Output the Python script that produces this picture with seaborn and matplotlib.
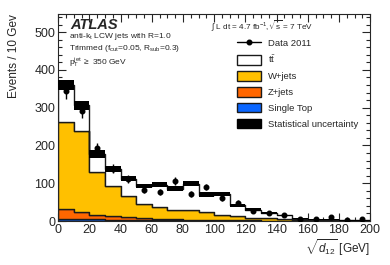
import numpy as np
import pandas as pd
import matplotlib
matplotlib.use("Agg")
import matplotlib.pyplot as plt
import seaborn as sns
from matplotlib.patches import Patch
from matplotlib.lines import Line2D
from matplotlib.ticker import MultipleLocator

# ---- data ----
bin_edges = list(range(0, 210, 10))
bin_centers = [5, 15, 25, 35, 45, 55, 65, 75, 85, 95, 105, 115, 125, 135, 145, 155, 165, 175, 185, 195]
single_top = [6, 5, 4, 3, 3, 2, 2, 1.5, 1.5, 1, 1, 0.8, 0.6, 0.5, 0.4, 0.3, 0.2, 0.2, 0.1, 0.1]
z_jets = [25, 19, 13, 10, 7, 5, 3, 2.5, 1.5, 2, 1, 1.2, 0.9, 0.5, 0.6, 0.2, 0.3, 0.1, 0.2, 0.2]
w_jets = [231, 214, 114, 79, 55, 39, 33, 25, 26, 20, 13, 11, 7.5, 6, 4, 2.5, 1.5, 1.2, 0.7, 0.7]
ttbar = [99, 68, 46, 46, 47, 47, 58, 57, 70, 47, 57, 29, 21, 15, 10, 3, 1, 1.5, 1, 1]
stat_unc = [13, 13, 10, 8, 7, 6, 6, 6, 6, 6, 5, 4, 4, 3, 2, 1.5, 1, 1, 1, 1]
data_vals = [343, 291, 193, 138, 112, 83, 77, 106, 71, 90, 61, 48, 26, 21, 16, 6, 5, 10, 3, 5]
data_err = [19, 17, 14, 12, 11, 9, 9, 10, 8, 9, 8, 7, 5, 5, 4, 2.5, 2, 3, 2, 2]

processes = ["ttbar", "W+jets", "Z+jets", "Single Top"]
colors = {"ttbar": "#FFFFFF", "W+jets": "#FFC000", "Z+jets": "#FF6600", "Single Top": "#0A66FF"}

rows = []
for name, vals in zip(processes, [ttbar, w_jets, z_jets, single_top]):
    for c, v in zip(bin_centers, vals):
        rows.append({"x": c, "w": v, "proc": name})
df = pd.DataFrame(rows)

sns.set_style("ticks")
plt.rcParams["font.family"] = ["Liberation Sans", "DejaVu Sans"]
plt.rcParams["mathtext.fontset"] = "custom"
plt.rcParams["mathtext.rm"] = "Liberation Sans"
plt.rcParams["mathtext.it"] = "Liberation Sans:italic"
plt.rcParams["mathtext.bf"] = "Liberation Sans:bold"

fig = plt.figure(figsize=(3.9, 2.65), dpi=100)
ax = fig.add_axes([0.149, 0.166, 0.800, 0.781])

sns.histplot(data=df, x="x", weights="w", hue="proc", hue_order=processes,
             multiple="stack", bins=bin_edges, element="step", fill=True,
             palette=colors, alpha=1, edgecolor="#1a1a1a", linewidth=1.0,
             legend=False, ax=ax)

total = [a + b + c + d for a, b, c, d in zip(ttbar, w_jets, z_jets, single_top)]
ax.bar(bin_centers, [2 * u for u in stat_unc], width=10,
       bottom=[t - u for t, u in zip(total, stat_unc)],
       color="black", edgecolor="none", linewidth=0, zorder=5)

ax.errorbar(bin_centers, data_vals, yerr=data_err, fmt="o", color="black",
            markersize=3.3, elinewidth=1, capsize=0, zorder=6)

ax.set_xlim(0, 200)
ax.set_ylim(0, 548)
ax.xaxis.set_major_locator(MultipleLocator(20))
ax.xaxis.set_minor_locator(MultipleLocator(5))
ax.yaxis.set_major_locator(MultipleLocator(100))
ax.yaxis.set_minor_locator(MultipleLocator(20))
ax.tick_params(which="both", direction="in", top=True, right=True, labelsize=9)
ax.tick_params(which="major", length=6, width=0.8)
ax.tick_params(which="minor", length=3, width=0.8)
ax.tick_params(axis="x", pad=2)
ax.tick_params(axis="y", pad=2)
for s in ax.spines.values():
    s.set_linewidth(0.8)

ax.set_xlabel(r"$\sqrt{d_{12}}$ [GeV]", fontsize=8.5, loc="right", labelpad=1)
ax.set_ylabel("Events / 10 Gev", fontsize=8.5, loc="top", labelpad=10)

# annotations
fig.text(70 / 390, 1 - 25 / 265, "ATLAS", fontsize=10.5, fontweight="bold",
         fontstyle="italic", va="center", ha="left")
fig.text(69 / 390, 1 - 37 / 265, r"anti-k$_{\mathrm{t}}$ LCW jets with R=1.0",
         fontsize=6.0, va="center", ha="left")
fig.text(69 / 390, 1 - 49 / 265, r"Trimmed (f$_{\mathrm{cut}}$=0.05, R$_{\mathrm{sub}}$=0.3)",
         fontsize=6.0, va="center", ha="left")
fig.text(69 / 390, 1 - 62.5 / 265, r"p$_{\mathrm{T}}^{\mathrm{jet}}$ $\geq$ 350 GeV",
         fontsize=6.0, va="center", ha="left")
fig.text(211 / 390, 1 - 26 / 265, r"$\int$ L dt = 4.7 fb$^{-1}$,$\sqrt{\mathrm{s}}$ = 7 TeV",
         fontsize=5.9, va="center", ha="left")

handles = [
    Line2D([0], [0], color="black", marker="o", markersize=3.3, lw=1),
    Patch(facecolor="white", edgecolor="#1a1a1a", lw=1),
    Patch(facecolor=colors["W+jets"], edgecolor="#1a1a1a", lw=1),
    Patch(facecolor=colors["Z+jets"], edgecolor="#1a1a1a", lw=1),
    Patch(facecolor=colors["Single Top"], edgecolor="#1a1a1a", lw=1),
    Patch(facecolor="black", edgecolor="black", lw=1),
]
labels = ["Data 2011", r"t$\bar{\mathrm{t}}$", "W+jets", "Z+jets", "Single Top",
          "Statistical uncertainty"]
fig.legend(handles, labels, loc="upper left", bbox_to_anchor=(237 / 390, 1 - 37.5 / 265),
           frameon=False, fontsize=6.8, handlelength=2.55, handleheight=1.2,
           labelspacing=0.62, handletextpad=0.75, borderaxespad=0, borderpad=0)

fig.savefig("out.png", dpi=100)
